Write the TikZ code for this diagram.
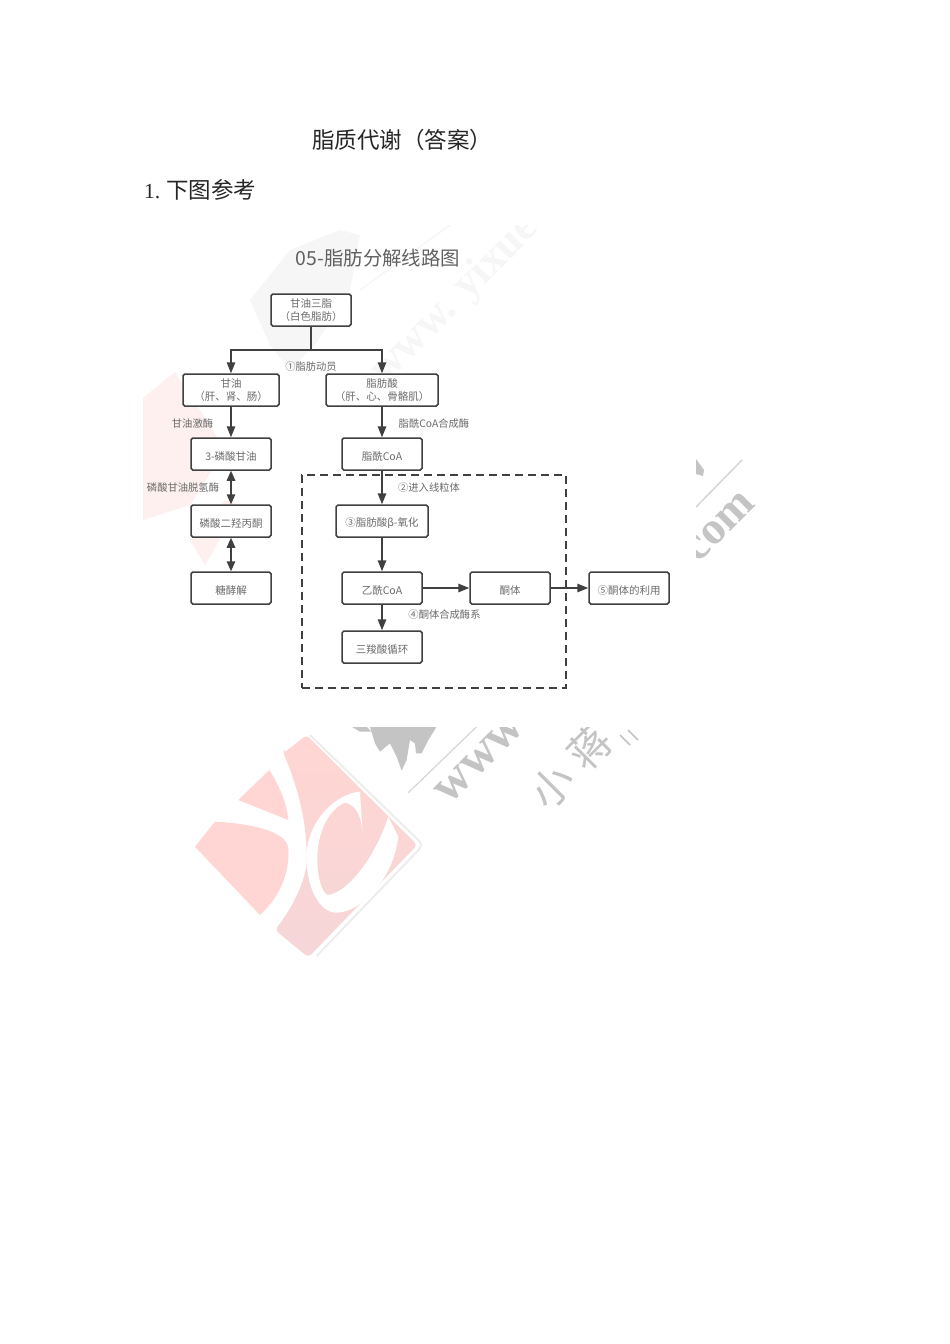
\documentclass[tikz,border=0pt]{standalone}
\usepackage{fontspec}
\setmainfont{Liberation Serif}
\newfontfamily\cjk{Noto Sans CJK SC}
\usetikzlibrary{arrows.meta}
\definecolor{ink}{gray}{0.25}
\definecolor{lab}{gray}{0.42}
\definecolor{wm}{gray}{0.77}
\definecolor{wmf}{gray}{0.965}
\definecolor{lp}{HTML}{FFD6D3}
\definecolor{lq}{HTML}{F6D6D8}
\definecolor{lpf}{HTML}{FDF0EE}
\tikzset{
 pbox/.style={draw=ink,line width=1.5pt,rounded corners=1.8pt,fill=white,text=lab,align=center,font=\cjk\fontsize{10.5}{13}\selectfont,inner sep=0pt,execute at begin node={\rule{0pt}{14pt}}},
 stepl/.style={text=lab,font=\cjk\fontsize{10.3}{12}\selectfont,inner sep=0pt,yshift=-0.8pt},
 flow/.style={draw=ink,line width=1.5pt,-{Triangle[length=11pt,width=8.5pt,fill=ink]}},
 both/.style={draw=ink,line width=1.5pt,{Triangle[length=10pt,width=8.5pt,fill=ink]}-{Triangle[length=10pt,width=8.5pt,fill=ink]}},
 plain/.style={draw=ink,line width=1.5pt},
 doc/.style={text=black!85,font=\cjk\fontsize{22.5}{24}\selectfont,inner sep=0pt,anchor=west},
 wmtext/.style={text=wm,font=\bfseries,rotate=45,inner sep=0pt}
}
\begin{document}
\begin{tikzpicture}[x=1pt,y=-1pt]
\useasboundingbox (0,0) rectangle (950,1344);
\fill[white] (0,0) rectangle (950,1344);
% page text
\node[doc] (title) at (312,140) {脂质代谢（答案）};
\node[doc] (q) at (144,190) {{\fontsize{21.5}{24}\selectfont\rmfamily 1.}\hspace{6pt}下图参考};
% watermark outside the pasted image
\begin{scope}
\clip (0,727) rectangle (950,1000);
\begin{scope}[shift={(180,720)},x=0.3333pt,y=-0.3333pt]
 \fill[wm] (515,20)--(560,20)--(575,35)--(540,35)--cycle;
 \fill[wm] (570,20)--(770,20)--(745,60)--(725,100)--(708,100)--(705,70)--(690,60)--(680,120)--(665,152)--(650,110)--(630,70)--(600,95)--(585,70)--cycle;
 \draw[wm!70,line width=1.2pt] (685,218)--(890,20);
\end{scope}
\node[wmtext,font=\rmfamily\bfseries\fontsize{50}{50}\selectfont] (www) at (480,759) {www};
\node[wmtext,font=\cjk\fontsize{42}{42}\selectfont] (xiao) at (552,787) {小};
\node[wmtext,font=\cjk\fontsize{42}{42}\selectfont] (jiang) at (590,747) {蒋};
\draw[wm,line width=1.5pt] (620,735)--(630,745) (628,730)--(638,740);
\end{scope}
\begin{scope}
\clip (696,440) rectangle (800,570);
\node[wmtext,font=\rmfamily\bfseries\fontsize{46}{46}\selectfont] (com) at (716,531) {.com};
\draw[wm!70,line width=1.5pt] (696,507)--(742,460);
\fill[wm] (696,459)--(704,470)--(703,476)--(696,474)--cycle;
\end{scope}
% logo
\begin{scope}[shift={(180,720)},x=0.3333pt,y=-0.3333pt]
 \draw[gray!15,line width=1.8pt,rounded corners=6pt] (390,45)--(730,375)--(410,708);
 \fill[lp] (105,305) .. controls (200,310) and (320,330) .. (325,385) .. controls (330,470) and (290,540) .. (240,585) -- (45,380) -- cycle;
 \fill[lp] (268,150) .. controls (300,200) and (320,250) .. (325,300) -- (175,240) -- cycle;
 \path[top color=lp,bottom color=lq,rounded corners=4pt] (310,100) -- (380,45) -- (712,375) -- (385,712) -- (285,630) .. controls (340,560) and (385,470) .. (380,390) .. controls (375,280) and (345,180) .. (310,100) -- cycle;
 \fill[white] (540,215) .. controls (470,220) and (385,300) .. (380,400) .. controls (375,500) and (420,580) .. (470,578) .. controls (540,578) and (640,480) .. (655,350) -- (625,290) .. controls (590,400) and (510,515) .. (445,525) .. controls (430,525) and (412,480) .. (412,420) .. controls (410,350) and (440,270) .. (495,248) .. controls (530,255) and (545,290) .. (548,345) -- cycle;
\end{scope}
% faint watermark behind the flow chart
\begin{scope}
\clip (143,225) rectangle (696,727);
\fill[lpf] (143,398)--(175,372)--(205,418)--(225,450)--(190,505)--(143,520)--cycle;
\fill[lpf] (190,540)--(225,500)--(240,505)--(205,565)--cycle;
\fill[wmf] (250,300)--(290,250)--(340,230)--(360,235)--(350,290)--(315,345)--(290,370)--(270,345)--cycle;
\node[rotate=45,inner sep=0pt,text=wmf,font=\rmfamily\bfseries\fontsize{44}{44}\selectfont] (wmk) at (455,300) {www. yixue};
\draw[wmf,line width=1.5pt] (360,290)--(450,225);
\end{scope}
% flow chart
\node[text=black!62,font=\cjk\fontsize{19.4}{20}\selectfont,inner sep=0pt] (head) at (378,258.5) {05-脂肪分解线路图};
\node[pbox,minimum width=80pt,minimum height=32pt] (tg) at (311,310) {甘油三脂\\（白色脂肪）};
\node[pbox,minimum width=96pt,minimum height=32pt] (gy) at (231,390) {甘油\\（肝、肾、肠）};
\node[pbox,minimum width=112pt,minimum height=32pt] (fa) at (382,390) {脂肪酸\\（肝、心、骨骼肌）};
\node[pbox,minimum width=80pt,minimum height=32pt] (g3p) at (231,454) {3-磷酸甘油};
\node[pbox,minimum width=80pt,minimum height=32pt] (facoa) at (382,454) {脂酰CoA};
\node[pbox,minimum width=80pt,minimum height=32pt] (dhap) at (231,521) {磷酸二羟丙酮};
\node[pbox,minimum width=92pt,minimum height=32pt] (beta) at (382,521) {③脂肪酸β-氧化};
\node[pbox,minimum width=80pt,minimum height=32pt] (gly) at (231,588) {糖酵解};
\node[pbox,minimum width=80pt,minimum height=32pt] (acoa) at (382,588) {乙酰CoA};
\node[pbox,minimum width=80pt,minimum height=32pt] (ket) at (510,588) {酮体};
\node[pbox,minimum width=80pt,minimum height=32pt] (use) at (629,588) {⑤酮体的利用};
\node[pbox,minimum width=80pt,minimum height=32pt] (tca) at (382,647) {三羧酸循环};
\node[draw=ink,dashed,dash pattern=on 8pt off 5pt,line width=1.4pt,minimum width=264pt,minimum height=213pt,inner sep=0pt] (mito) at (434,581.5) {};
\coordinate (fork) at (311,350);
\coordinate (forkl) at (231,350);
\coordinate (forkr) at (382,350);
\draw[plain] (tg.south) -- (fork);
\draw[flow] (fork) -- (forkl) -- (gy.north);
\draw[flow] (fork) -- (forkr) -- (fa.north);
\draw[flow] (gy) -- (g3p);
\draw[flow] (fa) -- (facoa);
\draw[both] (g3p) -- (dhap);
\draw[both] (dhap) -- (gly);
\draw[flow] (facoa) -- (beta);
\draw[flow] (beta) -- (acoa);
\draw[flow] (acoa) -- (tca);
\draw[flow] (acoa) -- (ket);
\draw[flow] (ket) -- (use);
\node[stepl] (l1) at (311,365.5) {①脂肪动员};
\node[stepl] (l2) at (192.5,423) {甘油激酶};
\node[stepl] (l3) at (434,423) {脂酰CoA合成酶};
\node[stepl] (l4) at (183,487) {磷酸甘油脱氢酶};
\node[stepl] (l5) at (429,487) {②进入线粒体};
\node[stepl] (l6) at (444.5,613.5) {④酮体合成酶系};
\end{tikzpicture}
\end{document}
